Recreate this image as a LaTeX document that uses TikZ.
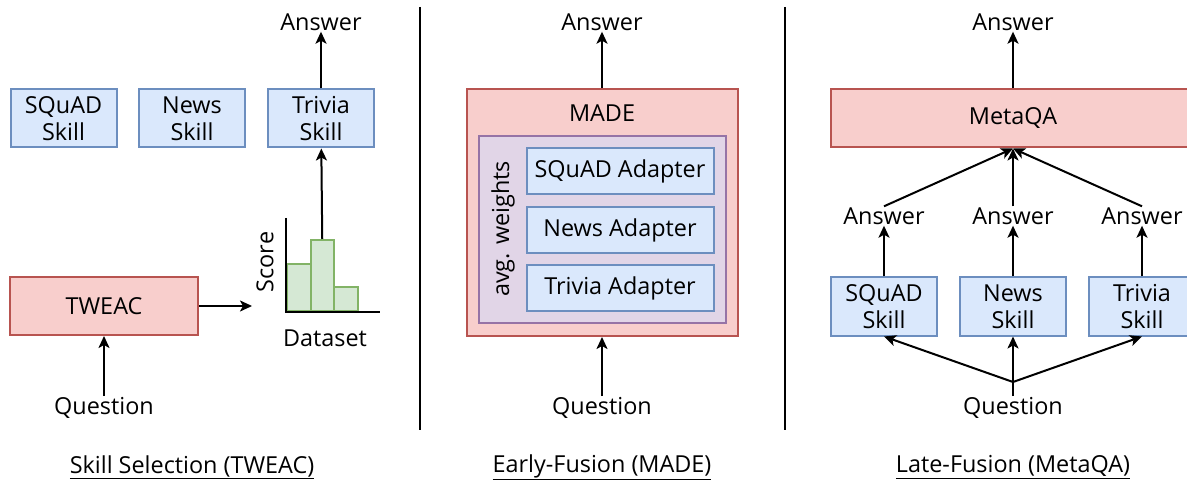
\documentclass[tikz,border=0pt]{standalone}
\usepackage{fontspec}
\setmainfont{Open Sans}
\usetikzlibrary{arrows.meta,positioning}
\definecolor{skillfill}{HTML}{DAE8FC}
\definecolor{skilldraw}{HTML}{6C8EBF}
\definecolor{modelfill}{HTML}{F8CECC}
\definecolor{modeldraw}{HTML}{B85450}
\definecolor{fusefill}{HTML}{E1D5E7}
\definecolor{fusedraw}{HTML}{9673A6}
\definecolor{barfill}{HTML}{D5E8D4}
\definecolor{bardraw}{HTML}{82B366}
\tikzset{
  >={Stealth[length=12pt,width=11pt,inset=3pt]},
  box/.style={rectangle, line width=2pt, inner sep=0pt, align=center},
  skill/.style={box, draw=skilldraw, fill=skillfill, minimum width=106pt, minimum height=58pt},
  adapter/.style={skill, minimum width=187pt, minimum height=46pt},
  model/.style={box, draw=modeldraw, fill=modelfill},
  bar/.style={draw=bardraw, fill=barfill, line width=2pt, minimum width=23.5pt,
              inner sep=0pt, anchor=south west},
  lbl/.style={inner sep=1pt},
  line/.style={draw, line width=2pt, ->},
  sep/.style={draw, line width=2pt}
}

\begin{document}
\begin{tikzpicture}[x=1pt,y=-1pt,font=\fontsize{23.4}{27}\selectfont]
\useasboundingbox (0,0) rectangle (1187,481);
% dividers
\draw[sep] (420,7) -- (420,430);
\draw[sep] (785,7) -- (785,430);

% skill selection
\node[skill] (squad1) at (63.5,118.5) {SQuAD\\Skill};
\node[skill] (news1) at (192,118.5) {News\\Skill};
\node[skill] (trivia1) at (321,118.5) {Trivia\\Skill};
\node[lbl] (ans1) at (321,22) {Answer};
\node[model, minimum width=188pt, minimum height=58pt] (tweac) at (104,306) {TWEAC};
\node[lbl] (q1) at (104,408) {Question};
\node[bar, minimum height=47pt] (bar1) at (286,312) {};
\node[bar, minimum height=71pt] (bar2) at (309.5,312) {};
\node[bar, minimum height=24pt] (bar3) at (333,312) {};
\draw[sep] (286,218) -- (286,312) -- (380,312);
\node[lbl, rotate=90] (score) at (265,262) {Score};
\node[lbl] (dataset) at (325,338) {Dataset};
\coordinate (chart) at (252,306);
\draw[line] (trivia1) -- (ans1);
\draw[line] (bar2.north) -- (trivia1);
\draw[line] (tweac) -- (chart);
\draw[line] (q1) -- (tweac);
\node[lbl] (title1) at (192,467) {\underline{Skill Selection (TWEAC)}};

% early fusion
\node[lbl] (ans2) at (602,22) {Answer};
\node[model, minimum width=271pt, minimum height=247pt] (made) at (602,212.5) {};
\node[lbl] at (602,113) {MADE};
\node[box, draw=fusedraw, fill=fusefill, minimum width=247pt, minimum height=187pt] (avg) at (602,229.5) {};
\node[lbl, rotate=90] at (503,229) {avg. weights};
\node[adapter] (squad2) at (620,171.5) {SQuAD Adapter};
\node[adapter] (news2) at (620,230) {News Adapter};
\node[adapter] (trivia2) at (620,288.5) {Trivia Adapter};
\node[lbl] (q2) at (602,408) {Question};
\draw[line] (made) -- (ans2);
\draw[line] (q2) -- (made);
\node[lbl] (title2) at (602,467) {\underline{Early-Fusion (MADE)}};

% late fusion
\node[lbl] (ans3) at (1013,22) {Answer};
\node[model, minimum width=364pt, minimum height=58pt] (metaqa) at (1013,118.5) {MetaQA};
\node[lbl] (a31) at (884,216) {Answer};
\node[lbl] (a32) at (1013,216) {Answer};
\node[lbl] (a33) at (1142,216) {Answer};
\node[skill] (squad3) at (884,306.5) {SQuAD\\Skill};
\node[skill] (news3) at (1013,306.5) {News\\Skill};
\node[skill] (trivia3) at (1142,306.5) {Trivia\\Skill};
\node[lbl] (q3) at (1013,408) {Question};
\coordinate (fork) at (1013,382);
\draw[line] (metaqa) -- (ans3);
\foreach \a/\s in {a31/squad3,a32/news3,a33/trivia3} {
  \draw[line] (\s) -- (\a);
  \draw[line] (\a.north) -- (metaqa.south);
  \draw[line] (fork) -- (\s.south);
}
\draw[sep] (q3.north) -- (fork);
\node[lbl] (title3) at (1013,467) {\underline{Late-Fusion (MetaQA)}};
\end{tikzpicture}
\end{document}
